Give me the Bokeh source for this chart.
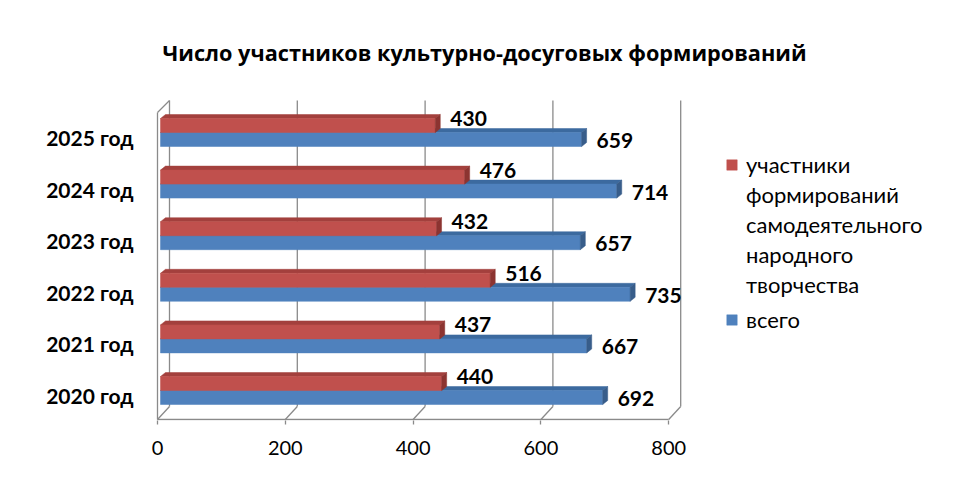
from bokeh.plotting import figure
from bokeh.models import Range1d, FixedTicker, Legend, LegendItem, ColumnDataSource
from bokeh.core.properties import value
from bokeh.embed import file_html
from bokeh.resources import INLINE

# ---- data ----
years = ["2020 год", "2021 год", "2022 год", "2023 год", "2024 год", "2025 год"]
participants = [440, 437, 516, 432, 476, 430]
total = [692, 667, 735, 657, 714, 659]
x_ticks = [0, 200, 400, 600, 800]
title_text = "Число участников культурно-досуговых формирований"
name_part_lines = ["участники", "формирований", "самодеятельного", "народного", "творчества"]
name_total = "всего"

# ---- styling / geometry (pixels -> data units) ----
W, H = 944, 464
SX = 0.639      # px per x unit
SY = 51.6       # px per category
RED, RED_TOP, RED_SIDE = "#C0504D", "#A3403D", "#8C3431"
BLUE, BLUE_TOP, BLUE_SIDE = "#4F81BD", "#3C6A9F", "#385D8A"
GRID = "#8A8A8A"
FONT = "Lato"

BX = 3 / SX          # bar start offset
DX = 5 / SX          # bar depth x
DY = 4 / SY          # bar depth y
BH = 14 / SY         # bar thickness
PC = 5 / SY          # bar pair centre above label
WX = 12 / SX         # wall depth x
FLOOR_F = -24 / SY   # front floor
FLOOR_B = -11 / SY   # back floor
TOP_B = 295 / SY     # back wall top
TOP_F = 283 / SY     # front left wall top

LEFT, TOP, BOTTOM = 144, 90, 420
x_start = -13 / SX
x_end = x_start + (W - LEFT) / SX
y_start = -25 / SY
y_end = y_start + (BOTTOM - TOP) / SY

p = figure(width=W, height=H, output_backend="svg", toolbar_location=None,
           x_range=Range1d(x_start, x_end), y_range=Range1d(y_start, y_end),
           min_border_left=LEFT, min_border_right=0, min_border_top=TOP,
           min_border_bottom=H - BOTTOM)
p.outline_line_color = None
p.xgrid.visible = False
p.ygrid.visible = False
p.background_fill_color = "white"
p.border_fill_color = "white"

# title
p.title.text = title_text
p.title.text_font = "Open Sans"
p.title.text_font_style = "bold"
p.title.text_font_size = "21.7px"
p.title.text_color = "black"
p.title.align = "left"
p.title.offset = 18
p.title.standoff = 48

# walls / gridlines
bx0 = [t + WX for t in x_ticks]
p.segment(x0=bx0, y0=[FLOOR_B] * len(x_ticks), x1=bx0, y1=[TOP_B] * len(x_ticks),
          line_color=GRID, line_width=1.3)
p.segment(x0=bx0, y0=[FLOOR_B] * len(x_ticks), x1=x_ticks, y1=[FLOOR_F] * len(x_ticks),
          line_color=GRID, line_width=1.3)
p.segment(x0=[x_ticks[0], x_ticks[0], x_ticks[0]], y0=[FLOOR_F, FLOOR_F, TOP_F],
          x1=[x_ticks[-1], x_ticks[0], x_ticks[0] + WX], y1=[FLOOR_F, TOP_F, TOP_B],
          line_color=GRID, line_width=1.3)

# bars
def faces(vals, base):
    front = dict(left=[], right=[], bottom=[], top=[])
    top_xs, top_ys, side_xs, side_ys = [], [], [], []
    for i, v in enumerate(vals):
        b = i + PC + base
        t = b + BH
        l, r = BX, BX + v
        front["left"].append(l); front["right"].append(r)
        front["bottom"].append(b); front["top"].append(t)
        top_xs.append([l, r, r + DX, l + DX]); top_ys.append([t, t, t + DY, t + DY])
        side_xs.append([r, r + DX, r + DX, r]); side_ys.append([b, b + DY, t + DY, t])
    return front, top_xs, top_ys, side_xs, side_ys

bf, btx, bty, bsx, bsy = faces(total, -BH)
rf, rtx, rty, rsx, rsy = faces(participants, 0)

p.patches(xs=btx, ys=bty, fill_color=BLUE_TOP, line_color=BLUE_TOP, line_width=0.5)
blue_r = p.quad(source=ColumnDataSource(bf), left="left", right="right", bottom="bottom", top="top",
                fill_color=BLUE, line_color=BLUE, line_width=0.5)
p.patches(xs=bsx, ys=bsy, fill_color=BLUE_SIDE, line_color=BLUE_SIDE, line_width=0.5)
p.patches(xs=rtx, ys=rty, fill_color=RED_TOP, line_color=RED_TOP, line_width=0.5)
red_r = p.quad(source=ColumnDataSource(rf), left="left", right="right", bottom="bottom", top="top",
               fill_color=RED, line_color=RED, line_width=0.5)
p.patches(xs=rsx, ys=rsy, fill_color=RED_SIDE, line_color=RED_SIDE, line_width=0.5)
blank_r = p.quad(left=[], right=[], bottom=[], top=[], fill_alpha=0, line_alpha=0)

# data labels
idx = list(range(len(years)))
LX = BX + 15 / SX
p.text(x=[v + LX for v in participants], y=[i + PC + 14 / SY for i in idx],
       text=[str(v) for v in participants], text_font=value(FONT), text_font_style="bold",
       text_font_size="21px", text_align="left", text_baseline="middle", text_color="black")
p.text(x=[v + LX for v in total], y=[i + PC - 8 / SY for i in idx],
       text=[str(v) for v in total], text_font=value(FONT), text_font_style="bold",
       text_font_size="21px", text_align="left", text_baseline="middle", text_color="black")

# axes
p.xaxis.ticker = FixedTicker(ticks=x_ticks)
p.xaxis.axis_line_color = None
p.xaxis.major_tick_in = 0
p.xaxis.major_tick_out = 4
p.xaxis.major_tick_line_color = GRID
p.xaxis.major_tick_line_width = 1.3
p.xaxis.minor_tick_line_color = None
p.xaxis.major_label_text_font = FONT
p.xaxis.major_label_text_font_size = "20px"
p.xaxis.major_label_text_color = "black"
p.xaxis.major_label_standoff = 16

p.yaxis.ticker = FixedTicker(ticks=idx)
p.yaxis.major_label_overrides = {i: y for i, y in zip(idx, years)}
p.yaxis.axis_line_color = None
p.yaxis.major_tick_line_color = None
p.yaxis.minor_tick_line_color = None
p.yaxis.major_label_text_font = FONT
p.yaxis.major_label_text_font_style = "bold"
p.yaxis.major_label_text_font_size = "21px"
p.yaxis.major_label_text_color = "black"
p.yaxis.major_label_standoff = 5

def make_legend(items, loc, spacing):
    lg = Legend(items=items, location=loc)
    lg.padding = 0
    lg.margin = 0
    lg.border_line_color = None
    lg.background_fill_alpha = 0
    lg.glyph_width = 13
    lg.glyph_height = 13
    lg.label_standoff = 8
    lg.spacing = spacing
    lg.label_text_font = FONT
    lg.label_text_font_size = "22px"
    lg.label_text_color = "black"
    return lg

part_items = [LegendItem(label=name_part_lines[0], renderers=[red_r])] + \
             [LegendItem(label=s, renderers=[blank_r]) for s in name_part_lines[1:]]
p.add_layout(make_legend(part_items, (581, 122), 3), "center")
p.add_layout(make_legend([LegendItem(label=name_total, renderers=[blue_r])], (581, 87), 0), "center")

open("out.html", "w").write(file_html(p, INLINE))
